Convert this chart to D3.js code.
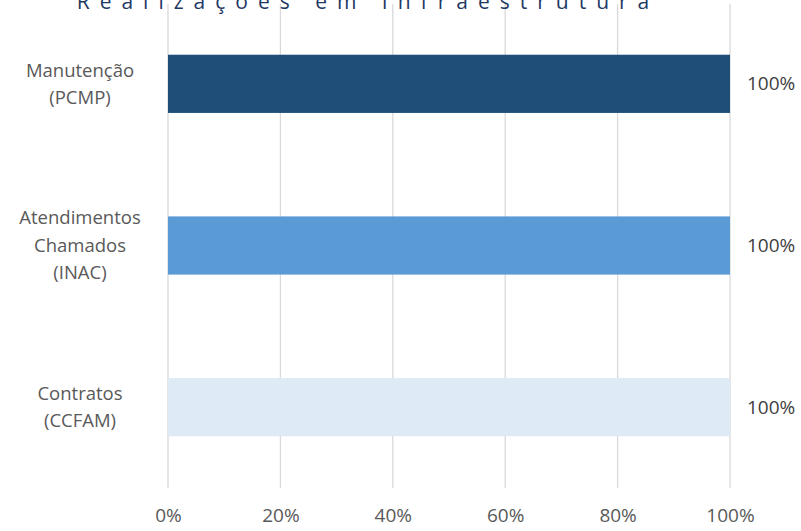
<!DOCTYPE html>
<html>
<head>
<meta charset="utf-8">
<style>
body { margin: 0; background: #fff; }
text { font-family: "Open Sans", "Liberation Sans", sans-serif; }
</style>
</head>
<body>
<svg width="801" height="531"></svg>
<script src="https://d3js.org/d3.v7.min.js"></script>
<script>

// data
var categories = [['Manutenção', '(PCMP)'], ['Atendimentos', 'Chamados', '(INAC)'], ['Contratos', '(CCFAM)']]
var values = [1, 1, 1]
var colors = ['#1F4E79', '#5B9BD5', '#DEEAF6']
var ticks = [0, 0.2, 0.4, 0.6, 0.8, 1]
var title = 'Realizações em Infraestrutura'

var svg = d3.select('svg')
var margin = { top: 3, left: 168, right: 71, bottom: 43 }
var width = 801 - margin.left - margin.right
var height = 531 - margin.top - margin.bottom

var x = d3.scaleLinear().domain([0, 1]).range([margin.left, margin.left + width])
var y = d3.scaleBand()
  .domain(d3.range(values.length))
  .range([margin.top, margin.top + height])
  .paddingInner(0.64)
  .paddingOuter(0.32)

// gridlines
svg.append('g')
  .selectAll('line')
  .data(ticks)
  .enter().append('line')
  .attr('x1', function (d) { return x(d) })
  .attr('x2', function (d) { return x(d) })
  .attr('y1', 4)
  .attr('y2', margin.top + height)
  .attr('stroke', '#D9D9D9')
  .attr('stroke-width', 1.3)

// bars
svg.append('g')
  .selectAll('rect')
  .data(values)
  .enter().append('rect')
  .attr('x', x(0))
  .attr('y', function (d, i) { return y(i) })
  .attr('width', function (d) { return x(d) - x(0) })
  .attr('height', y.bandwidth())
  .attr('fill', function (d, i) { return colors[i] })

// value labels
svg.append('g')
  .selectAll('text')
  .data(values)
  .enter().append('text')
  .attr('x', function (d) { return x(d) + 17 })
  .attr('y', function (d, i) { return y(i) + y.bandwidth() / 2 })
  .attr('dy', '0.35em')
  .attr('font-size', 19)
  .attr('fill', '#404040')
  .text(function (d) { return d3.format('.0%')(d) })

// category labels
var lineH = 27.5
categories.forEach(function (lines, i) {
  var cy = y(i) + y.bandwidth() / 2
  var t = svg.append('text')
    .attr('text-anchor', 'middle')
    .attr('font-size', 18.5)
    .attr('fill', '#595959')
  lines.forEach(function (l, j) {
    t.append('tspan')
      .attr('x', 80)
      .attr('y', cy + (j - (lines.length - 1) / 2) * lineH)
      .attr('dy', '0.35em')
      .text(l)
  })
})

// x axis labels
var xAxis = d3.axisBottom(x)
  .tickValues(ticks)
  .tickFormat(d3.format('.0%'))
  .tickSize(0)
  .tickPadding(21)
svg.append('g')
  .attr('transform', 'translate(0,' + (margin.top + height) + ')')
  .call(xAxis)
  .call(function (g) { g.select('.domain').remove() })
  .call(function (g) {
    g.selectAll('text')
      .attr('font-size', 19)
      .attr('font-family', '"Open Sans", "Liberation Sans", sans-serif')
      .attr('fill', '#595959')
  })

// title, clipped at the top edge as in the original
svg.append('text')
  .attr('x', 368)
  .attr('y', 8.5)
  .attr('text-anchor', 'middle')
  .attr('font-size', 21)
  .attr('letter-spacing', 10)
  .attr('fill', '#1F3864')
  .text(title)

</script>
</body>
</html>
